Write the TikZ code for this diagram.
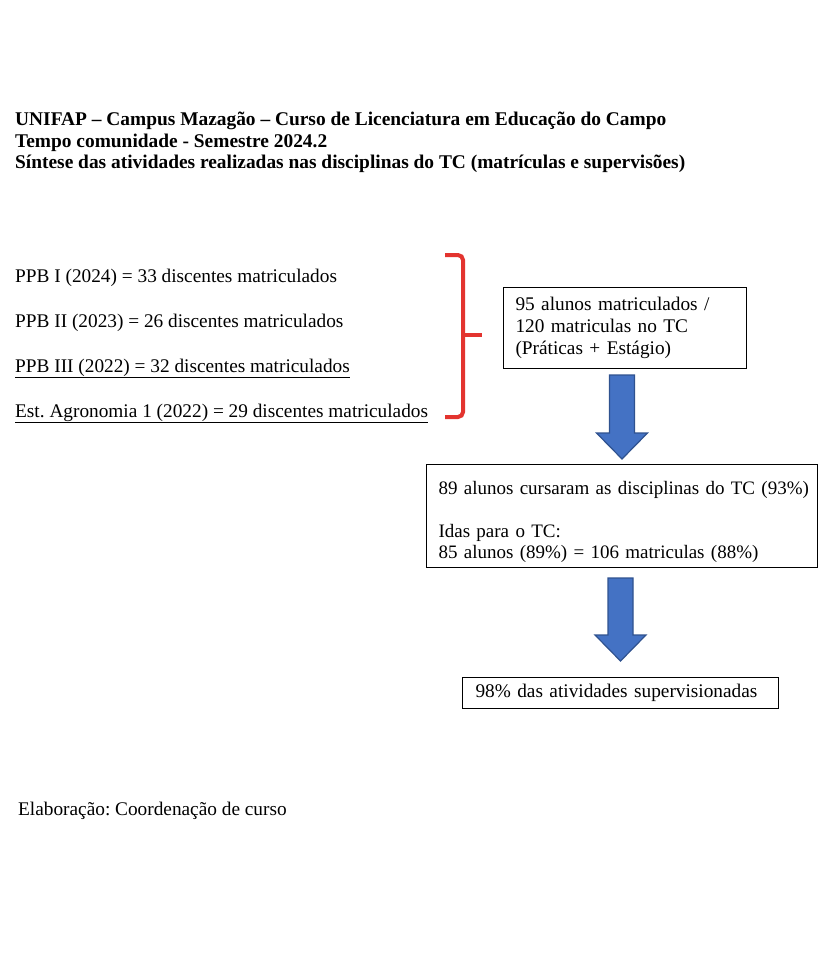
\documentclass[tikz,border=0pt]{standalone}
\usepackage{fontspec}
\setmainfont{Liberation Serif}
\usetikzlibrary{calc}
\frenchspacing

\definecolor{azulseta}{HTML}{4472C4}
\definecolor{bordaseta}{HTML}{2F528F}
\definecolor{vermelho}{HTML}{E3342F}

% seta grossa para baixo: #1 topo da haste, #2 ponta
\newcommand\setagrossa[2]{%
  \draw [seta] let \p1=#1, \p2=#2 in
    (\x2-12.5pt,\y1) -- (\x2+12.5pt,\y1) -- (\x2+12.5pt,\y2+26pt) -- (\x2+25.5pt,\y2+26pt)
    -- (\x2,\y2) -- (\x2-25.5pt,\y2+26pt) -- (\x2-12.5pt,\y2+26pt) -- cycle;}

\begin{document}
\begin{tikzpicture}[x=1pt, y=-1pt,
    texto/.style={anchor=base west, inner sep=0pt, font=\fontsize{19.3}{22}\selectfont},
    titulo/.style={anchor=base west, inner sep=0pt, font=\fontsize{19.4}{22}\selectfont\bfseries},
    caixa/.style={draw, line width=1pt, anchor=north west, align=left, inner ysep=0pt,
      font=\fontsize{19.3}{22}\selectfont},
    seta/.style={fill=azulseta, draw=bordaseta, line width=1.2pt},
    chave/.style={draw=vermelho, line width=4pt, rounded corners=5pt}]
        \useasboundingbox (0, 0) rectangle (828, 953);

        % titulo
        \node [titulo] (tit1) at (15, 125) {UNIFAP -- Campus Mazagão -- Curso de Licenciatura em Educação do Campo};
        \node [titulo] (tit2) at (15, 147) {Tempo comunidade - Semestre 2024.2};
        \node [titulo] (tit3) at (15, 168) {Síntese das atividades realizadas nas disciplinas do TC (matrículas e supervisões)};

        % disciplinas
        \node [texto] (ppb1) at (15, 282) {PPB I (2024) = 33 discentes matriculados};
        \node [texto] (ppb2) at (15, 327) {PPB II (2023) = 26 discentes matriculados};
        \node [texto] (ppb3) at (15, 372) {\underline{PPB III (2022) = 32 discentes matriculados}};
        \node [texto] (agro) at (15, 417) {\underline{Est. Agronomia 1 (2022) = 29 discentes matriculados}};

        \draw [chave] (445, 255) -- (463, 255) -- (463, 417) -- (445, 417);
        \draw [chave] (463, 335) -- (482, 335);

        % caixas
        \node [caixa, inner xsep=12pt, text width=219pt, minimum height=81pt] (inscritos) at (503, 287)
          {95 alunos matriculados /\\ 120 matriculas no TC\\ (Práticas + Estágio)};
        \node [caixa, inner xsep=12pt, text width=367pt, minimum height=103pt,
          font=\fontsize{19}{21.5}\selectfont] (cursaram) at (426, 464)
          {\rule{0pt}{25pt}\mbox{89 alunos cursaram as disciplinas do TC (93\%)}\\[21.5pt]
           Idas para o TC:\\ 85 alunos (89\%) = 106 matriculas (88\%)};
        \node [caixa, inner xsep=13pt, text width=290pt, minimum height=31pt] (supervisao) at (462, 677)
          {98\% das atividades supervisionadas};

        % setas
        \coordinate (topo1) at ($(inscritos.south)+(0, 6)$);
        \coordinate (ponta1) at ($(cursaram.north)+(0, -5)$);
        \coordinate (topo2) at ($(cursaram.south)+(0, 10)$);
        \coordinate (ponta2) at ($(supervisao.north)+(0, -16)$);
        \setagrossa{(topo1)}{(ponta1)}
        \setagrossa{(topo2)}{(ponta2)}

        \node [texto] (fonte) at (18, 815) {Elaboração: Coordenação de curso};
      \end{tikzpicture}
\end{document}
